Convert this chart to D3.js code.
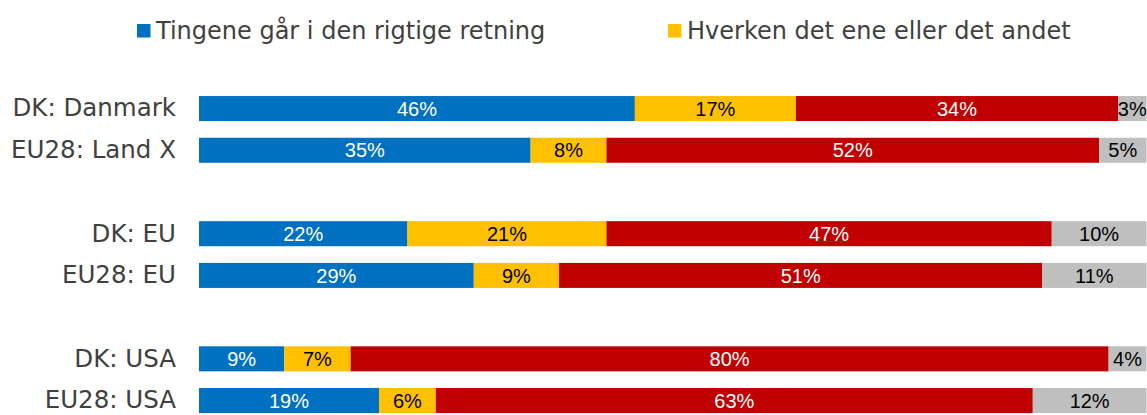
<!DOCTYPE html>
<html>
<head>
<meta charset="utf-8">
<script src="https://cdn.jsdelivr.net/npm/d3@7"></script>
<style>
  body { margin: 0; background: #fff; }
  svg { display: block; }
</style>
</head>
<body>
<svg id="chart" width="1147" height="415"></svg>
<script>
// categories, with empty spacer rows between the groups
var categories = ["DK: Danmark", "EU28: Land X", "", "DK: EU", "EU28: EU", "", "DK: USA", "EU28: USA"];
var rigtige = [46, 35, null, 22, 29, null, 9, 19];
var hverken = [17, 8, null, 21, 9, null, 7, 6];
var forkerte = [34, 52, null, 47, 51, null, 80, 63];
var vedIkke = [3, 5, null, 10, 11, null, 4, 12];
var legendLabels = ["Tingene går i den rigtige retning", "Hverken det ene eller det andet"];

var series = [rigtige, hverken, forkerte, vedIkke];
var colors = ["#0070C0", "#FFC000", "#C00000", "#BFBFBF"];
var textColors = ["#ffffff", "#000000", "#ffffff", "#000000"];

var svg = d3.select("#chart");

var x = d3.scaleLinear().domain([0, 100]).range([199, 1146.5]);
var y = d3.scaleBand()
  .domain(d3.range(categories.length))
  .range([87.7, 421.4])
  .paddingInner(0.4)
  .paddingOuter(0.2);

// stack the segments per row
var rows = categories.map(function (c, i) {
  var start = 0;
  var segs = [];
  series.forEach(function (s, k) {
    if (s[i] == null) return;
    segs.push({ k: k, x0: start, x1: start + s[i], v: s[i] });
    start += s[i];
  });
  return { name: c, i: i, segs: segs };
});

var row = svg.selectAll(".row")
  .data(rows)
  .enter()
  .append("g")
  .attr("class", "row")
  .attr("transform", function (d) { return "translate(0," + y(d.i) + ")"; });

row.selectAll("rect")
  .data(function (d) { return d.segs; })
  .enter()
  .append("rect")
  .attr("x", function (d) { return x(d.x0); })
  .attr("width", function (d) { return x(d.x1) - x(d.x0); })
  .attr("height", y.bandwidth())
  .attr("fill", function (d) { return colors[d.k]; });

row.selectAll("text.val")
  .data(function (d) { return d.segs; })
  .enter()
  .append("text")
  .attr("class", "val")
  .attr("x", function (d) { return (x(d.x0) + x(d.x1)) / 2; })
  .attr("y", y.bandwidth() / 2)
  .attr("dy", "0.36em")
  .attr("text-anchor", "middle")
  .style("font-family", "'Liberation Sans', Arial, sans-serif")
  .style("font-size", "20px")
  .attr("fill", function (d) { return textColors[d.k]; })
  .text(function (d) { return d.v + "%"; });

// category axis on the left
var yAxis = d3.axisLeft(y)
  .tickFormat(function (i) { return categories[i]; })
  .tickSize(0)
  .tickPadding(0);

svg.append("g")
  .attr("transform", "translate(176,0)")
  .call(yAxis)
  .call(function (g) { g.select(".domain").remove(); })
  .selectAll("text")
  .style("font-family", "'DejaVu Sans', Verdana, sans-serif")
  .style("font-size", "24.5px")
  .attr("fill", "#404040");

// legend
var legendX = [137, 668];
var legend = svg.selectAll(".legend")
  .data(legendLabels)
  .enter()
  .append("g")
  .attr("class", "legend")
  .attr("transform", function (d, i) { return "translate(" + legendX[i] + ",24)"; });

legend.append("rect")
  .attr("width", 13.5)
  .attr("height", 13.5)
  .attr("fill", function (d, i) { return colors[i]; });

legend.append("text")
  .attr("x", 19)
  .attr("y", 15)
  .style("font-family", "'DejaVu Sans', Verdana, sans-serif")
  .style("font-size", "24px")
  .attr("fill", "#404040")
  .text(function (d) { return d; });
</script>
</body>
</html>
